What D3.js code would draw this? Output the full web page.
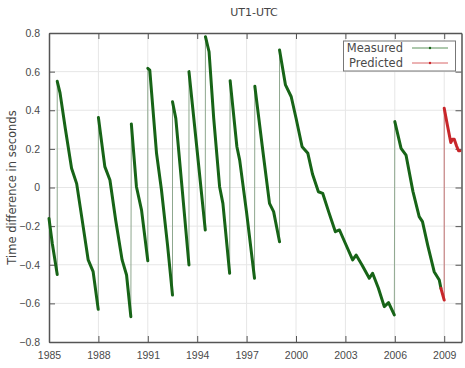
<!DOCTYPE html>
<html>
<head>
<meta charset="utf-8">
<script src="https://cdn.jsdelivr.net/npm/d3@7"></script>
<style>
html,body{margin:0;padding:0;background:#fff;}
svg{display:block;font-family:"DejaVu Sans",Arial,sans-serif;}
</style>
</head>
<body>
<svg id="chart" width="465" height="368"></svg>
<script>
// ---- Data (years, UT1-UTC seconds) ----
const title = "UT1-UTC";
const yLabel = "Time difference in seconds";
const xTicks = [1985, 1988, 1991, 1994, 1997, 2000, 2003, 2006, 2009];
const yTicks = [-0.8, -0.6, -0.4, -0.2, 0, 0.2, 0.4, 0.6, 0.8];
const seriesNames = ["Measured", "Predicted"];

// Measured data, split into segments between leap seconds
const measuredSegments = [
  [[1985.0,-0.16],[1985.2,-0.29],[1985.5,-0.45]],
  [[1985.5,0.55],[1985.67,0.49],[1986.0,0.30],[1986.37,0.10],[1986.68,0.02],[1987.0,-0.16],[1987.38,-0.375],[1987.68,-0.436],[1987.99,-0.631]],
  [[1988.0,0.363],[1988.39,0.108],[1988.70,0.039],[1989.05,-0.17],[1989.44,-0.375],[1989.71,-0.453],[1989.97,-0.669]],
  [[1990.0,0.329],[1990.31,0.004],[1990.62,-0.117],[1991.0,-0.379]],
  [[1991.0,0.617],[1991.12,0.608],[1991.53,0.177],[1991.83,-0.013],[1992.2,-0.30],[1992.5,-0.557]],
  [[1992.5,0.444],[1992.70,0.358],[1993.1,-0.02],[1993.5,-0.401]],
  [[1993.5,0.60],[1993.95,0.229],[1994.49,-0.22]],
  [[1994.5,0.781],[1994.72,0.703],[1995.0,0.36],[1995.36,0.004],[1995.56,-0.082],[1995.97,-0.444]],
  [[1996.0,0.553],[1996.41,0.211],[1996.58,0.142],[1997.0,-0.13],[1997.48,-0.470]],
  [[1997.5,0.524],[1998.0,0.18],[1998.39,-0.082],[1998.64,-0.125],[1999.0,-0.281]],
  [[1999.0,0.712],[1999.36,0.531],[1999.71,0.470],[2000.0,0.36],[2000.37,0.211],[2000.72,0.177],[2001.0,0.07],[2001.36,-0.022],[2001.62,-0.030],[2002.0,-0.13],[2002.39,-0.229],[2002.64,-0.220],[2003.0,-0.29],[2003.44,-0.375],[2003.65,-0.35],[2004.0,-0.40],[2004.45,-0.470],[2004.65,-0.444],[2005.0,-0.52],[2005.36,-0.617],[2005.62,-0.596],[2005.97,-0.660]],
  [[2006.0,0.341],[2006.38,0.203],[2006.68,0.168],[2007.1,-0.02],[2007.48,-0.151],[2007.68,-0.177],[2008.0,-0.30],[2008.39,-0.436],[2008.70,-0.479],[2008.80,-0.522]]
];
// Predicted data
const predictedSegments = [
  [[2008.80,-0.522],[2009.0,-0.583]],
  [[2009.0,0.41],[2009.2,0.32],[2009.40,0.233],[2009.5,0.25],[2009.61,0.25],[2009.75,0.215],[2009.87,0.19],[2009.95,0.19]]
];
const seriesColors = ["#176417", "#c8262a"];

// ---- Layout ----
const svg = d3.select("#chart");
const margin = {left: 49, right: 3.5, top: 33, bottom: 26};
const W = 465, H = 368;
const x = d3.scaleLinear().domain([1985, 2010.05]).range([margin.left, W - margin.right]);
const y = d3.scaleLinear().domain([-0.8, 0.8]).range([H - margin.bottom, margin.top]);

// grid
const grid = svg.append("g");
grid.selectAll("line.vx").data(xTicks.slice(1)).enter().append("line")
  .attr("x1", d => x(d)).attr("x2", d => x(d))
  .attr("y1", y(-0.8)).attr("y2", y(0.8))
  .attr("stroke", "#e6e6e6").attr("stroke-width", 1);
grid.selectAll("line.hy").data(yTicks.slice(1, -1)).enter().append("line")
  .attr("x1", x.range()[0]).attr("x2", x.range()[1])
  .attr("y1", d => y(d)).attr("y2", d => y(d))
  .attr("stroke", "#e6e6e6").attr("stroke-width", 1);

// axes with inward ticks
const axisColor = "#555";
const fmtY = d => (d === 0 ? "0" : d3.format(".1f")(d));
const bottomAxis = svg.append("g").attr("transform", `translate(0,${y(-0.8)})`)
  .call(d3.axisBottom(x).tickValues(xTicks).tickSizeInner(-6).tickSizeOuter(0).tickPadding(10).tickFormat(d3.format("d")));
const topAxis = svg.append("g").attr("transform", `translate(0,${y(0.8)})`)
  .call(d3.axisTop(x).tickValues(xTicks).tickSizeInner(-6).tickSizeOuter(0).tickFormat(""));
const leftAxis = svg.append("g").attr("transform", `translate(${x.range()[0]},0)`)
  .call(d3.axisLeft(y).tickValues(yTicks).tickSizeInner(-6).tickSizeOuter(0).tickPadding(9).tickFormat(fmtY));
const rightAxis = svg.append("g").attr("transform", `translate(${x.range()[1]},0)`)
  .call(d3.axisRight(y).tickValues(yTicks).tickSizeInner(-6).tickSizeOuter(0).tickFormat(""));
[bottomAxis, topAxis, leftAxis, rightAxis].forEach(g => {
  g.select(".domain").attr("stroke", axisColor).attr("stroke-width", 1.5);
  g.selectAll(".tick line").attr("stroke", axisColor).attr("stroke-width", 1);
  g.selectAll(".tick text").attr("fill", "#4a4a4a").attr("font-size", 10.5);
});

// data lines
const line = d3.line().x(d => x(d[0])).y(d => y(d[1]));
const plot = svg.append("g");
const measuredAll = measuredSegments.flat();
const predictedAll = predictedSegments.flat();
plot.append("path").datum(measuredAll).attr("d", line)
  .attr("fill", "none").attr("stroke", "#8fa88f").attr("stroke-width", 1);
plot.append("path").datum(predictedAll).attr("d", line)
  .attr("fill", "none").attr("stroke", "#c07070").attr("stroke-width", 1);
plot.selectAll("path.m").data(measuredSegments).enter().append("path")
  .attr("d", line).attr("fill", "none").attr("stroke", seriesColors[0])
  .attr("stroke-width", 3).attr("stroke-linejoin", "round").attr("stroke-linecap", "round");
plot.selectAll("path.p").data(predictedSegments).enter().append("path")
  .attr("d", line).attr("fill", "none").attr("stroke", seriesColors[1])
  .attr("stroke-width", 3).attr("stroke-linejoin", "round").attr("stroke-linecap", "round");

// title & y label
svg.append("text").attr("x", 254).attr("y", 16).attr("text-anchor", "middle")
  .attr("font-size", 11).attr("fill", "#444").text(title);
svg.append("text").attr("transform", `translate(16,${(y(0.8)+y(-0.8))/2}) rotate(-90)`)
  .attr("text-anchor", "middle").attr("font-size", 11.5).attr("fill", "#444").text(yLabel);

// legend
const lg = svg.append("g");
lg.append("rect").attr("x", 343.5).attr("y", 41).attr("width", 112).attr("height", 30)
  .attr("fill", "#fff").attr("stroke", "#777").attr("stroke-width", 1);
seriesNames.forEach((name, i) => {
  const yy = 48 + i * 15;
  lg.append("text").attr("x", 403).attr("y", yy + 4).attr("text-anchor", "end")
    .attr("font-size", 11.5).attr("fill", "#4a4a4a").text(name);
  lg.append("line").attr("x1", 412).attr("x2", 448).attr("y1", yy).attr("y2", yy)
    .attr("stroke", seriesColors[i]).attr("stroke-width", 1).attr("opacity", 0.7);
  lg.append("circle").attr("cx", 430).attr("cy", yy).attr("r", 1.2).attr("fill", seriesColors[i]);
});
</script>
</body>
</html>
